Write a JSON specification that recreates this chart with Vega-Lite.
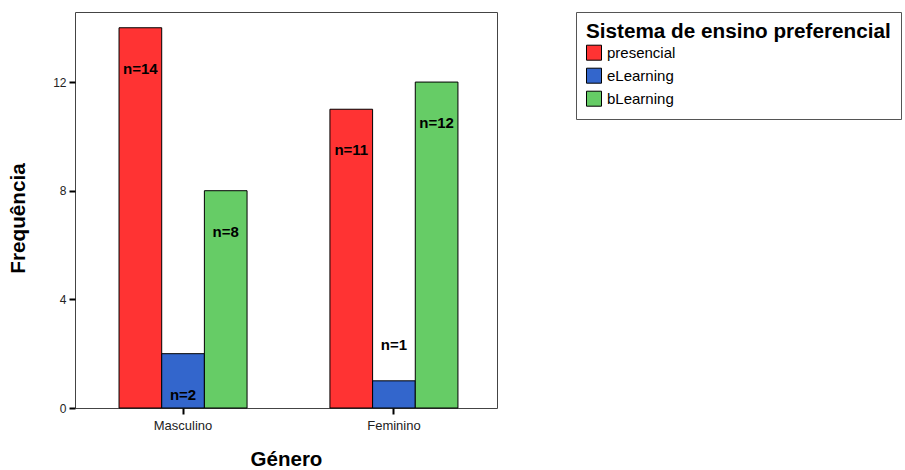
{
  "$schema": "https://vega.github.io/schema/vega-lite/v6.json",
  "autosize": {"type": "none"},
  "padding": {"left": 75, "top": 12, "right": 408, "bottom": 62},
  "width": 422,
  "height": 396,
  "background": "white",
  "config": {
    "view": {"stroke": "#444", "strokeWidth": 1},
    "font": "Liberation Sans"
  },
  "data": {
    "values": [
      {"genero": "Masculino", "sistema": "presencial", "n": 14, "label": "n=14"},
      {"genero": "Masculino", "sistema": "eLearning", "n": 2, "label": "n=2"},
      {"genero": "Masculino", "sistema": "bLearning", "n": 8, "label": "n=8"},
      {"genero": "Feminino", "sistema": "presencial", "n": 11, "label": "n=11"},
      {"genero": "Feminino", "sistema": "eLearning", "n": 1, "label": "n=1"},
      {"genero": "Feminino", "sistema": "bLearning", "n": 12, "label": "n=12"}
    ]
  },
  "encoding": {
    "x": {
      "field": "genero", "type": "nominal", "sort": ["Masculino", "Feminino"],
      "scale": {"paddingInner": 0.393, "paddingOuter": 0.197, "align": 0.53},
      "axis": {
        "title": "Género", "titleFontSize": 20.5, "titleFontWeight": "bold", "titleColor": "black",
        "titleY": 51, "titleBaseline": "middle",
        "labelAngle": 0, "labelFontSize": 13, "labelColor": "#222", "labelPadding": 5,
        "domain": false, "ticks": true, "tickColor": "black", "tickWidth": 2, "tickSize": 6
      }
    },
    "xOffset": {"field": "sistema", "type": "nominal", "sort": ["presencial", "eLearning", "bLearning"], "scale": {"paddingInner": 0, "paddingOuter": 0}},
    "y": {
      "field": "n", "type": "quantitative",
      "scale": {"domain": [0, 14.58], "nice": false},
      "axis": {
        "title": "Frequência", "titleFontSize": 20.7, "titleFontWeight": "bold", "titleColor": "black",
        "titleX": -57, "titleY": 206, "titleAngle": -90, "titleAlign": "center", "titleBaseline": "middle",
        "values": [0, 4, 8, 12], "grid": false, "domain": false,
        "labelFontSize": 12, "labelColor": "#222", "labelPadding": 3,
        "tickColor": "black", "tickWidth": 2, "tickSize": 6
      }
    }
  },
  "layer": [
    {
      "mark": {"type": "bar", "stroke": "black", "strokeWidth": 1},
      "encoding": {
        "color": {
          "field": "sistema", "type": "nominal",
          "sort": ["presencial", "eLearning", "bLearning"],
          "scale": {"domain": ["presencial", "eLearning", "bLearning"], "range": ["#FF3333", "#3366CC", "#66CC66"]},
          "legend": {
            "title": "Sistema de ensino preferencial", "orient": "none", "legendX": 501, "legendY": 0,
            "titleFontSize": 20.7, "titleFontWeight": "bold", "titleColor": "black", "titlePadding": 2, "titleLimit": 500,
            "labelFontSize": 15, "labelColor": "black", "labelLimit": 300,
            "symbolType": "square", "symbolSize": 225, "symbolStrokeColor": "black", "symbolStrokeWidth": 1, "symbolOpacity": 1,
            "rowPadding": 3, "padding": 10, "strokeColor": "#555", "fillColor": "white",
            "labelOffset": 5
          }
        }
      }
    },
    {
      "transform": [{"filter": "datum.n >= 2"}],
      "mark": {"type": "text", "dy": 41, "fontSize": 15, "fontWeight": "bold", "color": "black", "baseline": "middle"},
      "encoding": {"text": {"field": "label", "type": "nominal"}}
    },
    {
      "transform": [{"filter": "datum.n < 2"}],
      "mark": {"type": "text", "dy": -36, "fontSize": 15, "fontWeight": "bold", "color": "black", "baseline": "middle"},
      "encoding": {"text": {"field": "label", "type": "nominal"}}
    }
  ]
}
